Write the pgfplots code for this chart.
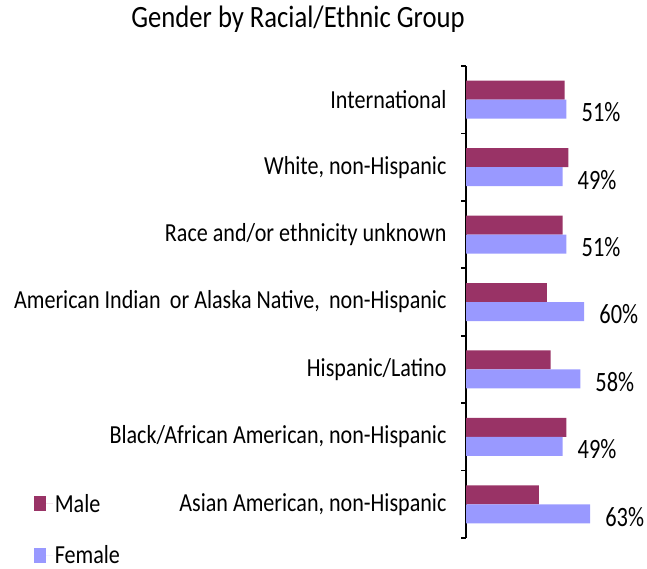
\documentclass[border=0pt]{standalone}
\usepackage{fontspec}
\setmainfont{Carlito}
\usepackage{graphicx}
\usepackage{pgfplots}
\pgfplotsset{compat=1.18}
\definecolor{male}{HTML}{993366}
\definecolor{female}{HTML}{9999FF}
\newcommand{\sq}[1]{\scalebox{0.85}[1]{#1}}

\begin{document}
\begin{tikzpicture}
\path[use as bounding box] (0,0) rectangle (647pt,-569pt);
\begin{axis}[
  at={(466pt,-538pt)}, anchor=south west,
  scale only axis, width=197pt, height=472pt,
  xmin=0, xmax=100, ymin=-0.5, ymax=6.5,
  axis x line=none, axis y line*=left,
  y axis line style={line width=1.6pt, black},
  xbar, bar width=19pt,
  /pgf/number format/assume math mode=true,
  ytick={0,...,6},
  yticklabels={\sq{Asian American, non-Hispanic},
               \sq{Black/African American, non-Hispanic},
               \sq{Hispanic/Latino},
               \sq{American Indian\hspace{5pt} or Alaska Native,\hspace{5pt} non-Hispanic},
               \sq{Race and/or ethnicity unknown},
               \sq{White, non-Hispanic},
               \sq{International}},
  major tick length=0pt,
  minor ytick={-0.5,0.5,...,6.5},
  tick align=outside, minor tick length=5pt,
  minor tick style={line width=1.6pt, black},
  yticklabel style={font=\fontsize{26}{30}\selectfont, xshift=-16pt},
  title={\scalebox{0.86}[1]{Gender by Racial/Ethnic Group}},
  title style={font=\fontsize{31}{36}\selectfont, at={(-0.853,1.087)}, anchor=center},
  clip=false,
  legend cell align=left,
  legend style={at={(-2.195,0.098)}, anchor=north west, draw=none, fill=none,
    font=\fontsize{26}{30}\selectfont, row sep=28pt, inner sep=0pt},
]
\addplot[fill=male, draw=none, bar shift=9.5pt,
  legend image code/.code={\fill[male] (0pt,-7.5pt) rectangle (12pt,7.5pt);
    \path (0pt,0pt) -- (19pt,0pt);}]
  coordinates {(37,0) (51,1) (43,2) (41,3) (49,4) (52,5) (50,6)};
\addplot[fill=female, draw=none, bar shift=-9.5pt,
  legend image code/.code={\fill[female] (0pt,-7.5pt) rectangle (12pt,7.5pt);
    \path (0pt,0pt) -- (19pt,0pt);},
  nodes near coords={\scalebox{0.8}[1]{\pgfmathprintnumber{\pgfplotspointmeta}\%}},
  nodes near coords style={anchor=west, inner sep=0pt, xshift=15pt, yshift=-3pt,
    font=\fontsize{28}{32}\selectfont, text=black}]
  coordinates {(63,0) (49,1) (58,2) (60,3) (51,4) (49,5) (51,6)};
\legend{\sq{Male},\sq{Female}}
\end{axis}
\end{tikzpicture}
\end{document}
